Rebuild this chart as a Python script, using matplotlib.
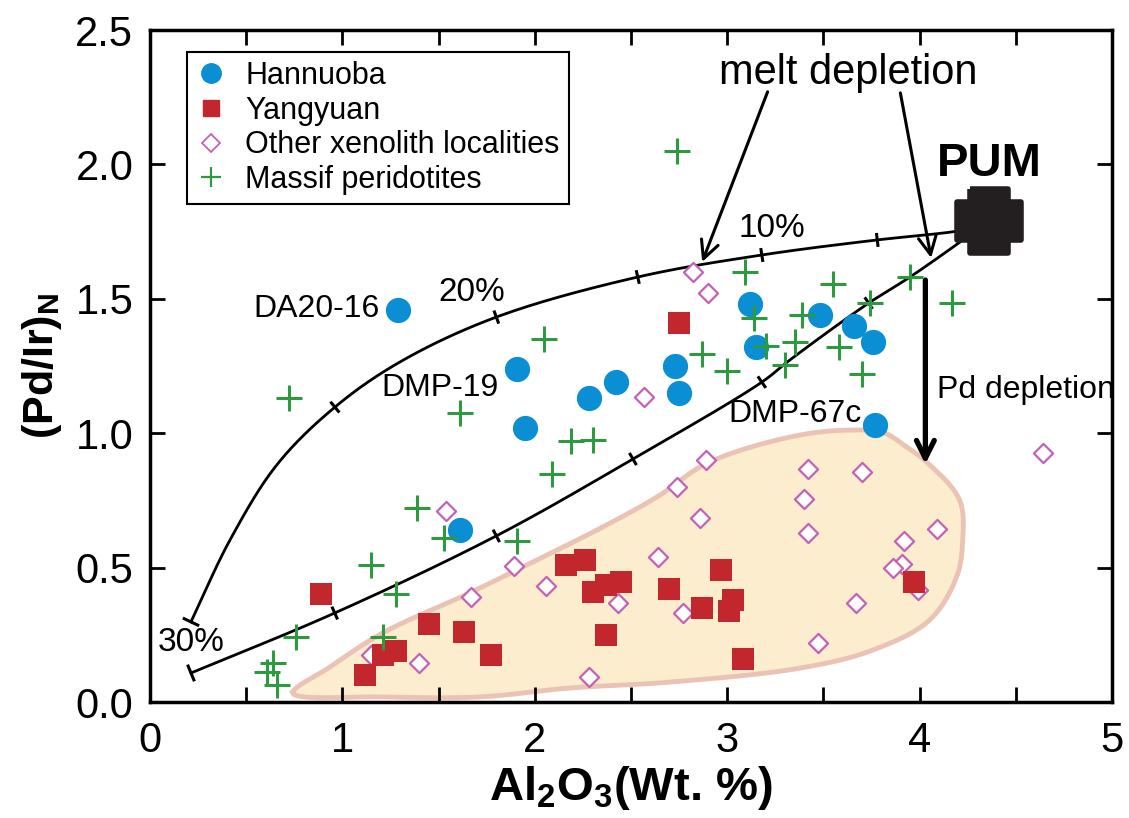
import numpy as np
import matplotlib
matplotlib.use('Agg')
import matplotlib.pyplot as plt
from matplotlib.lines import Line2D
from matplotlib.path import Path

# ---- data ---------------------------------------------------------------
hannuoba_x = [1.29, 1.91, 1.95, 1.61, 2.42, 2.28, 2.73, 2.75, 3.12, 3.15, 3.48, 3.66, 3.76, 3.77]
hannuoba_y = [1.46, 1.24, 1.02, 0.64, 1.19, 1.13, 1.25, 1.15, 1.48, 1.32, 1.44, 1.40, 1.34, 1.03]

yangyuan_x = [0.89, 1.45, 1.63, 1.28, 1.21, 1.12, 2.75, 2.16, 2.26, 2.30, 2.37, 2.45,
              2.70, 2.97, 2.87, 3.03, 3.01, 2.37, 1.77, 3.08, 3.97]
yangyuan_y = [0.40, 0.29, 0.26, 0.19, 0.175, 0.10, 1.41, 0.51, 0.53, 0.41, 0.435, 0.445,
              0.42, 0.49, 0.35, 0.38, 0.34, 0.25, 0.175, 0.16, 0.445]

other_x = [1.54, 1.67, 1.15, 1.40, 2.82, 2.90, 2.57, 2.89, 2.74, 2.86, 2.64, 1.89, 2.06,
           2.43, 2.77, 2.28, 4.64, 3.42, 3.70, 3.40, 3.42, 4.09, 3.92, 3.91, 3.86, 3.99,
           3.67, 3.47]
other_y = [0.71, 0.39, 0.175, 0.145, 1.60, 1.52, 1.135, 0.90, 0.80, 0.685, 0.54, 0.505, 0.43,
           0.37, 0.33, 0.093, 0.925, 0.865, 0.855, 0.755, 0.63, 0.645, 0.60, 0.515, 0.50, 0.415,
           0.37, 0.22]

massif_x = [2.74, 0.72, 1.61, 1.39, 1.53, 1.15, 1.28, 0.76, 1.21, 0.64, 0.61, 0.66, 3.09,
            3.14, 2.05, 3.20, 3.35, 2.87, 3.00, 3.30, 2.19, 2.30, 2.09, 1.91, 3.55, 3.95,
            4.17, 3.74, 3.39, 3.58, 3.70]
massif_y = [2.05, 1.13, 1.075, 0.72, 0.61, 0.51, 0.40, 0.24, 0.24, 0.145, 0.11, 0.065, 1.60,
            1.43, 1.35, 1.325, 1.34, 1.295, 1.23, 1.255, 0.97, 0.975, 0.85, 0.60, 1.555, 1.58,
            1.485, 1.485, 1.44, 1.32, 1.22]

pum_x, pum_y = 4.36, 1.79

# melting trend curves (control points) and their 5 % steps
upper_x = [4.36, 4.16, 3.78, 3.18, 2.535, 1.80, 1.299, 0.961, 0.66, 0.416, 0.213]
upper_y = [1.77, 1.748, 1.719, 1.663, 1.581, 1.432, 1.265, 1.097, 0.883, 0.603, 0.298]
upper_ticks = [3.78, 3.18, 2.535, 1.80, 0.961]
lower_x = [4.36, 4.21, 3.95, 3.735, 3.325, 3.18, 2.51, 1.80, 0.96, 0.213]
lower_y = [1.79, 1.711, 1.581, 1.484, 1.272, 1.19, 0.904, 0.618, 0.331, 0.108]
lower_ticks = [3.735, 3.18, 2.51, 1.80, 0.96]

# outline of the shaded xenolith field
field_x = [0.743, 0.935, 1.21, 1.662, 2.01, 2.353, 2.64, 2.90, 3.377, 3.673, 3.808, 3.932,
           4.042, 4.208, 4.223, 4.192, 4.052, 3.756, 3.377, 2.701, 2.182, 1.714, 1.21]
field_y = [0.033, 0.13, 0.257, 0.406, 0.528, 0.651, 0.765, 0.89, 0.993, 1.012, 1.004, 0.949,
           0.889, 0.751, 0.592, 0.465, 0.305, 0.193, 0.126, 0.074, 0.052, 0.019, 0.019]

NARROW = ['Liberation Sans Narrow', 'Liberation Sans', 'DejaVu Sans']
SANS = ['Liberation Sans', 'DejaVu Sans']
plt.rcParams['font.family'] = SANS
plt.rcParams['mathtext.fontset'] = 'custom'
plt.rcParams['mathtext.rm'] = 'Liberation Sans'
plt.rcParams['mathtext.bf'] = 'Liberation Sans:bold'

ASPECT = 268.8 / 192.5   # px per y unit / px per x unit


def catmull(xs, ys, n=30, closed=False):
    """centripetal Catmull-Rom line through control points"""
    p = np.column_stack([xs, np.asarray(ys) * ASPECT]).astype(float)
    if closed:
        p = np.vstack([p[-1], p, p[0], p[1]])
    else:
        p = np.vstack([2 * p[0] - p[1], p, 2 * p[-1] - p[-2]])
    out = []
    for i in range(1, len(p) - 2):
        P = p[i - 1:i + 3]
        t = [0.0]
        for k in range(3):
            t.append(t[-1] + np.hypot(*(P[k + 1] - P[k])) ** 0.5)
        tt = np.linspace(t[1], t[2], n)[:, None]
        A1 = (t[1] - tt) / (t[1] - t[0]) * P[0] + (tt - t[0]) / (t[1] - t[0]) * P[1]
        A2 = (t[2] - tt) / (t[2] - t[1]) * P[1] + (tt - t[1]) / (t[2] - t[1]) * P[2]
        A3 = (t[3] - tt) / (t[3] - t[2]) * P[2] + (tt - t[2]) / (t[3] - t[2]) * P[3]
        B1 = (t[2] - tt) / (t[2] - t[0]) * A1 + (tt - t[0]) / (t[2] - t[0]) * A2
        B2 = (t[3] - tt) / (t[3] - t[1]) * A2 + (tt - t[1]) / (t[3] - t[1]) * A3
        C = (t[2] - tt) / (t[2] - t[1]) * B1 + (tt - t[1]) / (t[2] - t[1]) * B2
        out.append(C)
    out = np.vstack(out)
    return out[:, 0], out[:, 1] / ASPECT


def curve_tick(ax, cx, cy, x0, half=7, lw=2.2):
    """short bar across the curve at x0 (length in pixels)"""
    i = int(np.argmin(np.abs(cx - x0)))
    j0, j1 = max(i - 2, 0), min(i + 2, len(cx) - 1)
    pts = ax.transData.transform([[cx[j0], cy[j0]], [cx[j1], cy[j1]], [cx[i], cy[i]]])
    d = pts[1] - pts[0]
    d = d / np.hypot(*d)
    nrm = np.array([-d[1], d[0]])
    seg = np.array([pts[2] - nrm * half, pts[2] + nrm * half])
    seg = ax.transData.inverted().transform(seg)
    ax.plot(seg[:, 0], seg[:, 1], color='black', lw=lw, solid_capstyle='butt', zorder=2)


fig = plt.figure(figsize=(11.29, 8.18), dpi=100)
ax = fig.add_axes([150 / 1129, 1 - 702 / 818, 962 / 1129, 672 / 818])
ax.set_xlim(0, 5)
ax.set_ylim(0, 2.5)

# shaded field
fx, fy = catmull(field_x, field_y, closed=True)
ax.fill(fx, fy, facecolor='#FDEDCF', edgecolor='#EBC3B5', lw=3.5, zorder=1)

# melting curves
ux, uy = catmull(upper_x, upper_y)
lx, ly = catmull(lower_x, lower_y)
ax.plot(ux, uy, color='black', lw=2, zorder=2)
ax.plot(lx, ly, color='black', lw=2, zorder=2)
for t in upper_ticks:
    curve_tick(ax, ux, uy, t)
for t in lower_ticks:
    curve_tick(ax, lx, ly, t)
curve_tick(ax, ux, uy, ux[-1], half=9)
curve_tick(ax, lx, ly, lx[-1], half=9)

# data points
ax.scatter(other_x, other_y, marker='D', s=95, facecolor='white', edgecolor='#C262B6',
           lw=1.6, zorder=3)
ax.scatter(yangyuan_x, yangyuan_y, marker='s', s=250, color='#C1272D', lw=0, zorder=4)
ax.scatter(massif_x, massif_y, marker='+', s=330, color='#2E9A3F', lw=2.2, zorder=5)
ax.scatter(hannuoba_x, hannuoba_y, marker='o', s=330, color='#0A8ED4', lw=0, zorder=4)

# PUM
w = 0.29
cross = [(-w, 0.5), (w, 0.5), (w, w), (0.5, w), (0.5, -w), (w, -w), (w, -0.5), (-w, -0.5),
         (-w, -w), (-0.5, -w), (-0.5, w), (-w, w), (-w, 0.5)]
ax.plot([pum_x], [pum_y], marker=Path(cross), ms=46, color='#231F20', mec='#231F20',
        mew=4, linestyle='none', zorder=6, solid_joinstyle='round')
ax.text(pum_x, 2.0, 'PUM', fontsize=34, fontweight='bold', ha='center', va='center',
        family=SANS, zorder=6)

# annotations
ax.text(3.63, 2.34, 'melt depletion', fontsize=30, ha='center', va='center', family=NARROW)
ax.annotate('', xy=(2.87, 1.637), xytext=(3.21, 2.27),
            arrowprops=dict(arrowstyle='->', lw=2.2, color='black', mutation_scale=32,
                            shrinkA=0, shrinkB=0))
ax.annotate('', xy=(4.06, 1.652), xytext=(3.90, 2.266),
            arrowprops=dict(arrowstyle='->', lw=2.2, color='black', mutation_scale=32,
                            shrinkA=0, shrinkB=0))
ax.annotate('', xy=(4.03, 0.885), xytext=(4.03, 1.57),
            arrowprops=dict(arrowstyle='->', lw=3.8, color='black', mutation_scale=32,
                            shrinkA=0, shrinkB=0))
ax.text(4.09, 1.16, 'Pd depletion', fontsize=23, ha='left', va='center', family=NARROW)

ax.text(1.195, 1.462, 'DA20-16', fontsize=23, ha='right', va='center', family=NARROW)
ax.text(1.813, 1.168, 'DMP-19', fontsize=23, ha='right', va='center', family=NARROW)
ax.text(3.70, 1.07, 'DMP-67c', fontsize=23, ha='right', va='center', family=NARROW)
ax.text(3.23, 1.763, '10%', fontsize=24, ha='center', va='center', family=NARROW)
ax.text(1.67, 1.525, '20%', fontsize=24, ha='center', va='center', family=NARROW)
ax.text(0.213, 0.22, '30%', fontsize=24, ha='center', va='center', family=NARROW)

# legend
handles = [
    Line2D([], [], marker='o', ls='none', color='#0A8ED4', ms=14, label='Hannuoba'),
    Line2D([], [], marker='s', ls='none', color='#C1272D', ms=12, label='Yangyuan'),
    Line2D([], [], marker='D', ls='none', mfc='white', mec='#C262B6', mew=1.3, ms=9,
           label='Other xenolith localities'),
    Line2D([], [], marker='+', ls='none', color='#2E9A3F', mew=1.6, ms=14,
           label='Massif peridotites'),
]
leg = ax.legend(handles=handles, loc='upper left', bbox_to_anchor=(37 / 962, 1 - 22 / 672),
                borderaxespad=0, fancybox=False, framealpha=1, edgecolor='black',
                prop={'family': SANS, 'size': 22}, handlelength=1.0, handletextpad=0.6,
                labelspacing=0.15, borderpad=0.3)
leg.get_frame().set_linewidth(1.5)

# axes styling
ax.set_xticks(np.arange(0, 5.01, 0.5))
ax.set_xticklabels(['0', '', '1', '', '2', '', '3', '', '4', '', '5'])
ax.set_yticks(np.arange(0, 2.51, 0.5))
ax.set_yticklabels(['0.0', '0.5', '1.0', '1.5', '2.0', '2.5'])
ax.tick_params(direction='in', length=11, width=2, top=True, right=True, labelsize=30)
ax.tick_params(axis='x', pad=14)
ax.tick_params(axis='y', pad=12)
for lab in ax.get_xticklabels() + ax.get_yticklabels():
    lab.set_family(NARROW)
for sp in ax.spines.values():
    sp.set_linewidth(2.5)

ax.set_xlabel(r'Al$_\mathbf{2}$O$_\mathbf{3}$(Wt. %)', fontsize=34, fontweight='bold',
              labelpad=2)
ax.set_ylabel(r'(Pd/Ir)$_\mathbf{N}$', fontsize=31, fontweight='bold', labelpad=8)

fig.savefig('out.png', dpi=100)
